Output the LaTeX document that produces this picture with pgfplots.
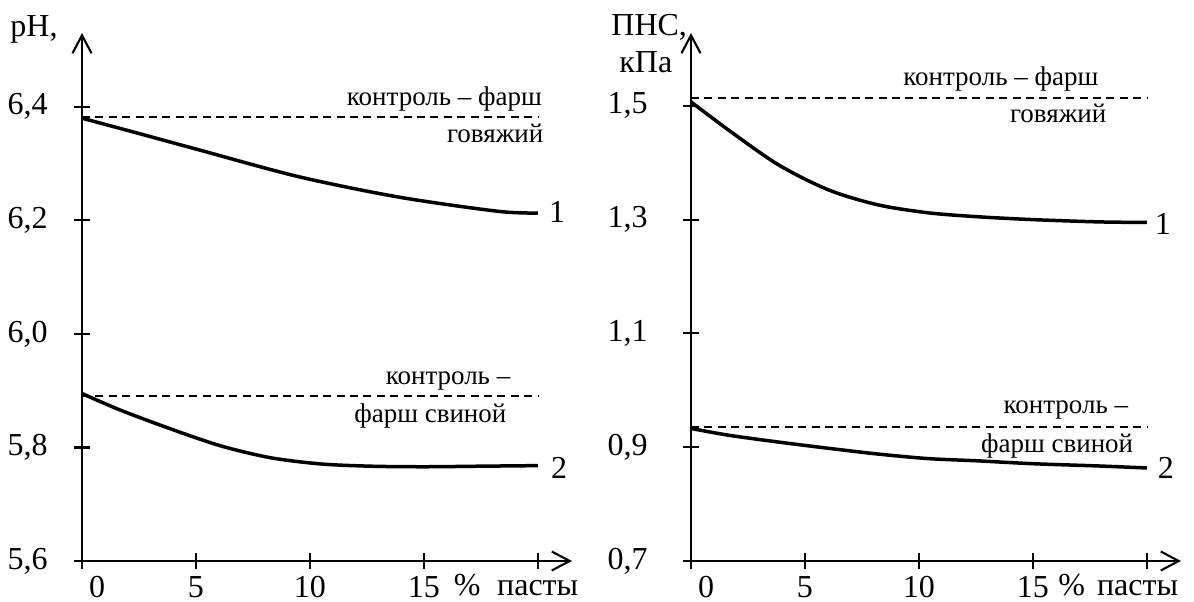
\documentclass[border=0pt]{standalone}
\usepackage{fontspec}
\setmainfont{Liberation Serif}
\usepackage{pgfplots}
\pgfplotsset{compat=1.18}
\usetikzlibrary{arrows.meta}

\pgfplotsset{
  panel/.style={
    scale only axis, width=245pt, height=264pt,
    anchor=south west,
    axis lines=left,
    axis line style={line width=1.05pt, ->},
    xmin=0, xmax=21.5,
    xtick={0,5,10,15,20},
    xticklabels={{\hspace*{15pt}0},5,10,15,{}},
    tick align=center, major tick length=8pt,
    tick style={line width=1.05pt, black},
    ticklabel style={font=\fontsize{16}{19}\selectfont, inner sep=0pt},
    xticklabel style={anchor=base, yshift=-14pt},
    clip=false,
  },
  curve/.style={black, line width=1.75pt, smooth},
  ctrl/.style={black, line width=0.95pt, dash pattern=on 4pt off 2.7pt},
}
\tikzset{
  note/.style={font=\fontsize{13.5}{16}\selectfont, inner sep=0pt},
  big/.style={font=\fontsize{16}{19}\selectfont, inner sep=0pt},
}

\begin{document}
\begin{tikzpicture}[>={Straight Barb[length=9pt,width=9.5pt]}]
\useasboundingbox (0pt,0pt) rectangle (597pt,300.5pt);

% pH
\begin{axis}[panel, at={(41pt,20pt)},
  ymin=5.6, ymax=6.53,
  ytick={5.6,5.8,6.0,6.2,6.4},
  yticklabels={\mbox{5,6},\mbox{5,8},\mbox{6,0},\mbox{6,2},\mbox{6,4}},
  yticklabel style={anchor=east, xshift=-13pt}]
\addplot[ctrl] coordinates {(0,6.382) (20,6.382)};
\addplot[ctrl] coordinates {(0,5.890) (20,5.890)};
\addplot[curve] coordinates {(0,6.380) (2.5,6.353) (5.15,6.324) (9.5,6.277) (13.9,6.241) (18.25,6.216) (20,6.213)};
\addplot[curve] coordinates {(0,5.895) (1.67,5.866) (3.87,5.833) (6.07,5.803) (8.26,5.782) (10.46,5.771) (12.66,5.767) (15,5.766) (17.5,5.767) (20,5.768)};
\node[note, anchor=base east] at (axis cs:20.2,6.402) {контроль – фарш};
\node[note, anchor=base east] at (axis cs:20.26,6.338) {говяжий};
\node[big, anchor=base west] at (axis cs:20.48,6.197) {1};
\node[note, anchor=base east] at (axis cs:18.81,5.911) {контроль –};
\node[note, anchor=base east] at (axis cs:18.64,5.844) {фарш свиной};
\node[big, anchor=base west] at (axis cs:20.57,5.745) {2};
\node[big, anchor=base west] at (axis cs:16.3,5.54) {\%};
\node[big, anchor=base west] at (axis cs:18.2,5.54) {пасты};
\end{axis}

% PNS
\begin{axis}[panel, at={(345.5pt,20pt)},
  ymin=0.7, ymax=1.628,
  ytick={0.7,0.9,1.1,1.3,1.5},
  yticklabels={\mbox{0,7},\mbox{0,9},\mbox{1,1},\mbox{1,3},\mbox{1,5}},
  yticklabel style={anchor=east, xshift=-17.5pt}]
\addplot[ctrl] coordinates {(0,1.514) (20,1.514)};
\addplot[ctrl] coordinates {(0,0.935) (20,0.935)};
\addplot[curve] coordinates {(0,1.507) (1.66,1.457) (3.85,1.396) (6.05,1.352) (8.2,1.326) (10.4,1.312) (12.6,1.305) (15,1.300) (17.9,1.296) (20,1.295)};
\addplot[curve] coordinates {(0,0.933) (1.66,0.921) (3.85,0.909) (6.05,0.898) (8.2,0.888) (10.4,0.880) (12.6,0.876) (15,0.871) (17.9,0.867) (20,0.8635)};
\node[note, anchor=base east] at (axis cs:17.89,1.535) {контроль – фарш};
\node[note, anchor=base east] at (axis cs:18.24,1.470) {говяжий};
\node[big, anchor=base west] at (axis cs:20.34,1.273) {1};
\node[note, anchor=base east] at (axis cs:19.2,0.960) {контроль –};
\node[note, anchor=base east] at (axis cs:19.42,0.891) {фарш свиной};
\node[big, anchor=base west] at (axis cs:20.47,0.8455) {2};
\node[big, anchor=base west] at (axis cs:16.1,0.64) {\%};
\node[big, anchor=base west] at (axis cs:17.8,0.64) {пасты};
\end{axis}

\node[big, anchor=base west] at (5pt,282pt) {pH,};
\node[big, anchor=base west] at (305.5pt,282.5pt) {ПНС,};
\node[big, anchor=base west] at (309.5pt,264pt) {кПа};
\end{tikzpicture}
\end{document}
